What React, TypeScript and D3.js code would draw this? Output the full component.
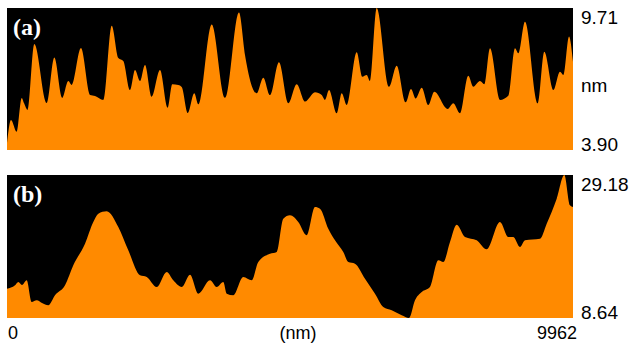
import { useRef, useEffect } from "react";
import * as d3 from "d3";

// scan length along the profile line (nm)
const scanLength = 9962;

// profile (a): position (nm) and height (nm)
const posA = [
    0, 70, 171, 259, 299, 364, 481, 699, 833, 973, 1079, 1139, 1302, 1461, 1549, 1695,
    1843, 1959, 2047, 2165, 2253, 2341, 2429, 2547, 2693, 2829, 2909, 3015, 3075, 3181,
    3297, 3367, 3603, 3837, 4083, 4189, 4395, 4511, 4629, 4787, 4951, 5099, 5245, 5421,
    5539, 5597, 5668, 5803, 5891, 5979, 6155, 6254, 6331, 6389, 6507, 6724, 6859, 7017,
    7111, 7193, 7299, 7415, 7521, 7757, 7855, 7973, 8119, 8207, 8325, 8401, 8501, 8677,
    8823, 8941, 8999, 9117, 9341, 9457, 9616, 9733, 9792, 9892, 9962,
];
const heightA = [
    4.19, 5.13, 4.65, 6.03, 5.82, 5.54, 8.24, 5.82, 7.68, 6.03, 6.72, 6.56, 8.07, 6.15, 6.11, 5.95,
    8.98, 7.66, 7.54, 6.35, 7.17, 6.72, 7.38, 6.08, 7.17, 5.63, 6.59, 6.56, 6.48, 5.41,
    6.22, 5.77, 9.04, 6.04, 9.53, 7.79, 6.22, 6.86, 6.15, 7.49, 5.81, 6.59, 5.88, 6.26,
    6.15, 5.95, 6.35, 5.40, 6.22, 5.74, 7.90, 6.90, 6.97, 6.72, 9.71, 6.49, 7.35, 5.85,
    6.40, 6.01, 6.45, 5.74, 6.28, 5.58, 5.81, 5.40, 6.94, 6.49, 6.72, 6.59, 8.06, 5.95,
    6.12, 8.06, 7.86, 9.15, 5.81, 7.92, 6.35, 7.10, 6.97, 8.54, 7.51,
];
const rangeA = [3.90, 9.71];

// profile (b)
const posB = [
    0, 141, 199, 264, 347, 435, 523, 616, 727, 845, 1021, 1167, 1373, 1519, 1607, 1755,
    1959, 2135, 2341, 2459, 2635, 2811, 2927, 3075, 3221, 3367, 3573, 3691, 3807, 3867,
    3983, 4159, 4307, 4423, 4629, 4747, 4863, 4981, 5127, 5275, 5421, 5509, 5655, 5773,
    5919, 6007, 6125, 6301, 6477, 6623, 6771, 6947, 7076, 7181, 7299, 7445, 7591, 7679,
    7797, 7915, 8061, 8267, 8443, 8677, 8823, 8911, 9029, 9117, 9381, 9499, 9675, 9809,
    9909, 9962,
];
const heightB = [
    12.85, 13.34, 13.81, 13.38, 14.05, 10.94, 11.18, 10.79, 10.46, 11.90, 13.34, 16.21, 19.31, 22.43, 23.62, 23.96,
    21.71, 18.36, 14.77, 14.53, 13.09, 15.25, 14.05, 13.09, 14.86, 12.13, 14.05, 13.09, 13.81, 12.13,
    11.90, 14.53, 14.05, 16.68, 17.87, 18.12, 22.90, 23.39, 22.43, 20.52, 24.58, 24.34, 21.46, 19.80,
    18.12, 16.68, 16.44, 14.28, 12.13, 10.22, 9.75, 9.03, 8.64, 11.18, 12.37, 13.09, 16.93, 16.68,
    19.55, 22.04, 20.27, 19.80, 18.50, 22.43, 20.27, 20.27, 18.84, 19.80, 20.03, 22.18, 25.77, 29.18,
    24.82, 24.58,
];
const rangeB = [8.64, 29.18];

const panelLabels = ["(a)", "(b)"];
const unitLabel = "nm";
const xLabels = ["0", "(nm)", String(scanLength)];

const W = 636;
const H = 344;

export default function App() {
    const svgRef = useRef<SVGSVGElement | null>(null);

    useEffect(() => {
        if (!svgRef.current) return;
        const svg = d3.select(svgRef.current);
        svg.selectAll("*").remove();

        const left = 7;
        const right = 573;
        const panels = [
            { pos: posA, h: heightA, range: rangeA, top: 8, bottom: 150, label: panelLabels[0], unit: true },
            { pos: posB, h: heightB, range: rangeB, top: 175, bottom: 318, label: panelLabels[1], unit: false },
        ];

        const x = d3.scaleLinear().domain([0, scanLength]).range([left, right]);
        const sans = "'Liberation Sans', Arial, Helvetica, sans-serif";

        panels.forEach(p => {
            const y = d3.scaleLinear().domain(p.range).range([p.bottom, p.top]);
            const data = p.pos.map((d, i) => [d, p.h[i]] as [number, number]);

            const g = svg.append("g");
            g.append("rect")
                .attr("x", left)
                .attr("y", p.top)
                .attr("width", right - left)
                .attr("height", p.bottom - p.top)
                .attr("fill", "#000");

            const area = d3
                .area<[number, number]>()
                .curve(d3.curveMonotoneX)
                .x(d => x(d[0]))
                .y0(p.bottom)
                .y1(d => y(d[1]));

            g.append("path").attr("d", area(data)!).attr("fill", "#ff8a00");

            // panel tag
            g.append("text")
                .attr("x", left + 6)
                .attr("y", p.top + 27)
                .attr("fill", "#fff")
                .attr("font-family", "'Liberation Serif', 'Times New Roman', serif")
                .attr("font-weight", "bold")
                .attr("font-size", 24)
                .text(p.label);

            // height range labels
            g.append("text")
                .attr("x", right + 8)
                .attr("y", p.top + 16)
                .attr("font-family", sans)
                .attr("font-size", 19)
                .attr("fill", "#000")
                .text(p.range[1].toFixed(2));
            g.append("text")
                .attr("x", right + 8)
                .attr("y", p.bottom + 1)
                .attr("font-family", sans)
                .attr("font-size", 19)
                .attr("fill", "#000")
                .text(p.range[0].toFixed(2));
            if (p.unit) {
                g.append("text")
                    .attr("x", right + 8)
                    .attr("y", (p.top + p.bottom) / 2 + 13)
                    .attr("font-family", sans)
                    .attr("font-size", 19)
                    .attr("fill", "#000")
                    .text(unitLabel);
            }
        });

        // bottom axis labels
        const xl = svg.append("g")
            .attr("font-family", sans)
            .attr("font-size", 18)
            .attr("fill", "#000");
        xl.append("text").attr("x", x(0) + 1).attr("y", 339).text(xLabels[0]);
        xl.append("text").attr("x", x(scanLength / 2) + 8).attr("y", 339).attr("text-anchor", "middle").text(xLabels[1]);
        xl.append("text").attr("x", x(scanLength) + 4).attr("y", 339).attr("text-anchor", "end").text(xLabels[2]);
    }, []);

    return (
        <div style={{ position: "absolute", left: 0, top: 0 }}>
            <svg ref={svgRef} width={W} height={H} style={{ display: "block", background: "#fff" }} />
        </div>
    );
}
